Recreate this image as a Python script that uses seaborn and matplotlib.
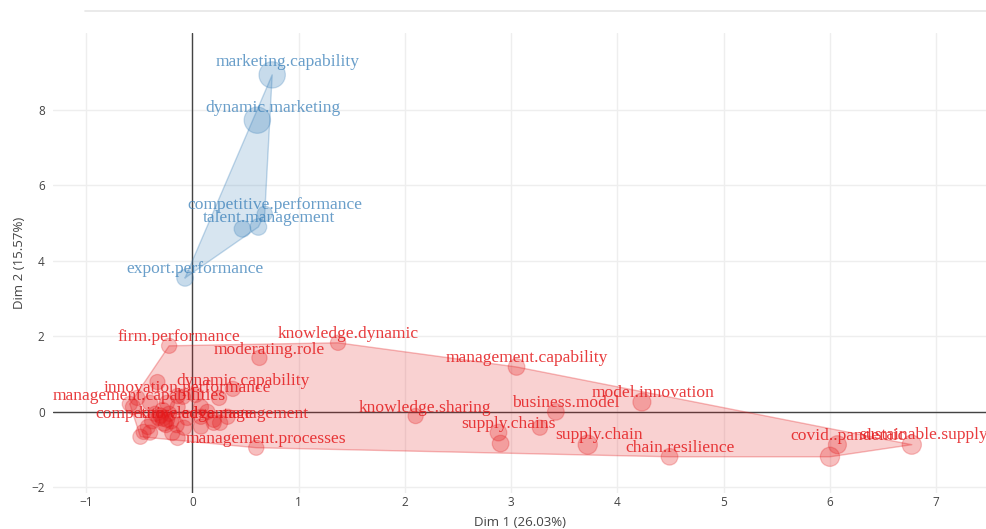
import numpy as np
import pandas as pd
import matplotlib
matplotlib.use("Agg")
import matplotlib.pyplot as plt
from matplotlib.lines import Line2D
import seaborn as sns

# ---- cluster 1 (blue): labelled keywords ----
blue_names = ["marketing.capability", "dynamic.marketing", "competitive.performance",
              "talent.management", "export.performance"]
blue_dim1 = [0.75, 0.61, 0.68, 0.62, -0.07]
blue_dim2 = [8.93, 7.73, 5.25, 4.90, 3.55]
blue_weight = [3.0, 3.0, 1.0, 1.2, 1.2]
# unlabelled members of cluster 1
blue_extra_dim1 = [0.47]
blue_extra_dim2 = [4.85]
blue_extra_weight = [1.2]

# ---- cluster 2 (red): labelled keywords ----
red_names = ["firm.performance", "knowledge.dynamic", "moderating.role",
             "management.capability", "model.innovation", "business.model",
             "knowledge.sharing", "supply.chains", "supply.chain", "chain.resilience",
             "covid..pandemic", "sustainable.supply", "management.processes",
             "management.capabilities", "innovation.performance", "dynamic.capability",
             "competitive.advantage", "knowledge.management"]
red_dim1 = [-0.22, 1.37, 0.63, 3.05, 4.23, 3.42, 2.10, 2.88, 3.72, 4.49,
            6.07, 6.77, 0.60, -0.59, -0.14, 0.38, -0.27, 0.20]
red_dim2 = [1.75, 1.83, 1.43, 1.19, 0.26, 0.00, -0.11, -0.55, -0.87, -1.19,
            -0.87, -0.87, -0.95, 0.21, 0.42, 0.61, -0.29, -0.29]
red_weight = [1.0, 1.0, 1.0, 1.2, 1.4, 1.2, 1.0, 1.2, 1.6, 1.2,
              1.4, 1.6, 1.0, 1.0, 1.0, 1.0, 1.2, 1.0]
# unlabelled members of cluster 2
red_extra_dim1 = [2.90, 3.27, 6.00, -0.33, -0.52, -0.56, -0.40, -0.24, -0.14, -0.32,
                  -0.42, -0.49, -0.40, -0.19, -0.08, 0.08, 0.14, 0.20, 0.08, 0.26,
                  0.33, 0.03, -0.09, -0.24, -0.05, 0.25, 0.08, -0.14, -0.46, -0.35,
                  -0.22, -0.28, -0.38, -0.15, -0.28, -0.25, -0.20, -0.30]
red_extra_dim2 = [-0.84, -0.42, -1.19, 0.79, 0.37, 0.13, 0.24, 0.24, 0.13, -0.16,
                  -0.40, -0.66, -0.55, -0.56, -0.42, -0.13, 0.00, -0.21, -0.39, -0.29,
                  -0.13, 0.45, 0.40, -0.21, -0.16, 0.37, 0.13, -0.69, -0.53, -0.05,
                  -0.05, 0.05, -0.25, -0.35, -0.18, -0.35, -0.25, -0.10]
red_extra_weight = [1.2, 1.0, 1.6, 1.0, 1.0, 1.0, 1.0, 1.0, 1.0, 1.0,
                    1.0, 1.0, 1.0, 1.0, 1.0, 1.0, 1.0, 1.0, 1.0, 1.0,
                    1.0, 1.0, 1.0, 1.0, 1.0, 1.0, 1.0, 1.0, 1.0, 1.0,
                    1.0, 1.0, 1.0, 1.0, 1.0, 1.0, 1.0, 1.0]

x_ticks = [-1, 0, 1, 2, 3, 4, 5, 6, 7]
y_ticks = [-2, 0, 2, 4, 6, 8]
x_title = "Dim 1 (26.03%)"
y_title = "Dim 2 (15.57%)"

RED = "#E41A1C"
BLUE = "#377EB8"


def convex_hull(pts):
    pts = sorted(set(map(tuple, pts)))
    if len(pts) < 3:
        return pts

    def cross(o, a, b):
        return (a[0] - o[0]) * (b[1] - o[1]) - (a[1] - o[1]) * (b[0] - o[0])

    lower, upper = [], []
    for p in pts:
        while len(lower) >= 2 and cross(lower[-2], lower[-1], p) <= 0:
            lower.pop()
        lower.append(p)
    for p in reversed(pts):
        while len(upper) >= 2 and cross(upper[-2], upper[-1], p) <= 0:
            upper.pop()
        upper.append(p)
    return lower[:-1] + upper[:-1]


def frame(names, d1, d2, w, cluster):
    return pd.DataFrame({"name": names, "dim1": d1, "dim2": d2,
                         "weight": w, "cluster": cluster})


df = pd.concat([
    frame(blue_names, blue_dim1, blue_dim2, blue_weight, "1"),
    frame([""] * len(blue_extra_dim1), blue_extra_dim1, blue_extra_dim2, blue_extra_weight, "1"),
    frame(red_names, red_dim1, red_dim2, red_weight, "2"),
    frame([""] * len(red_extra_dim1), red_extra_dim1, red_extra_dim2, red_extra_weight, "2"),
], ignore_index=True)

sns.set_theme(style="white")
plt.rcParams["font.family"] = ["Open Sans", "DejaVu Sans"]

fig = plt.figure(figsize=(9.87, 5.29), dpi=100)
ax = fig.add_axes([53 / 987, 1 - 493 / 529, 1 - 53 / 987, (493 - 33) / 529])

palette = {"1": BLUE, "2": RED}

# cluster hulls
for cl, col in palette.items():
    sub = df[df.cluster == cl]
    hull = np.array(convex_hull(sub[["dim1", "dim2"]].values))
    ax.fill(hull[:, 0], hull[:, 1], facecolor=col, alpha=0.2, edgecolor="none", zorder=2)
    closed = np.vstack([hull, hull[:1]])
    ax.plot(closed[:, 0], closed[:, 1], color=col, alpha=0.3, lw=1.0, zorder=2)

# points
sns.scatterplot(data=df, x="dim1", y="dim2", hue="cluster", palette=palette,
                size="weight", sizes=(120, 360), size_norm=(1.0, 3.0),
                alpha=0.28, edgecolor=None, linewidth=0, legend=False, ax=ax, zorder=3)
for cl, col in palette.items():
    sub = df[df.cluster == cl]
    s = 120 + (sub.weight.values - 1.0) / 2.0 * 240
    ax.scatter(sub.dim1, sub.dim2, s=s, facecolors="none", edgecolors=col,
               alpha=0.25, linewidths=0.9, zorder=3)

# keyword labels, nudged up-right further for the larger markers
for _, r in df[df.name != ""].iterrows():
    col = palette[r.cluster]
    dx = 7 + (r.weight - 1.0) * 2.0
    dy = 6 + (r.weight - 1.0) * 1.5
    ax.annotate(r["name"], (r.dim1, r.dim2), xytext=(dx, dy), textcoords="offset points",
                ha="center", va="center", fontsize=12.6, family="Liberation Serif",
                color=col, alpha=0.85 if r.cluster == "2" else 0.75, zorder=5,
                annotation_clip=False)

ax.set_xlim(-1.313, 7.478)
ax.set_ylim(-2.15, 10.04)
ax.set_xticks(x_ticks)
ax.set_yticks(y_ticks)
ax.set_xticklabels([str(t).replace("-", "\u2212") for t in x_ticks])
ax.set_yticklabels([str(t).replace("-", "\u2212") for t in y_ticks])
ax.tick_params(axis="x", length=0, labelsize=8.5, labelcolor="#444444", pad=2)
ax.tick_params(axis="y", length=0, labelsize=8.5, labelcolor="#444444", pad=6)
ax.grid(True, color="#eeeeee", lw=1.0, zorder=0)
ax.set_axisbelow(True)
for sp in ax.spines.values():
    sp.set_visible(False)
ax.axhline(0, color="#444444", lw=1.0, zorder=1)
ax.axvline(0, color="#444444", lw=1.0, zorder=1)

ax.set_xlabel(x_title, fontsize=9.5, color="#444444", labelpad=5)
ax.set_ylabel(y_title, fontsize=9.5, color="#444444", labelpad=4)

# thin rule along the top of the panel
fig.add_artist(Line2D([85 / 987, 1.0], [1 - 11 / 529, 1 - 11 / 529],
                      transform=fig.transFigure, color="#e6e6e6", lw=1.2))

fig.savefig("out.png", dpi=100, facecolor="white")
